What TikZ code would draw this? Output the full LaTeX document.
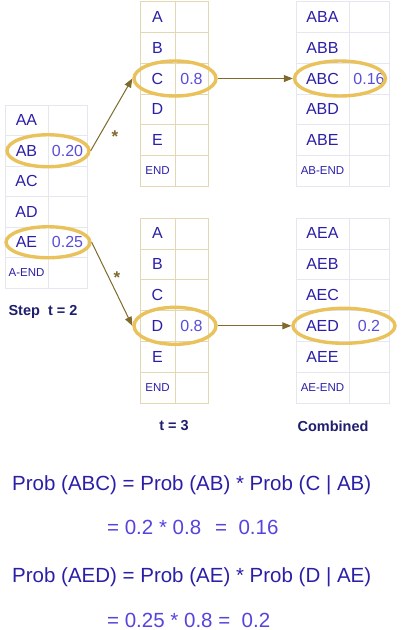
\documentclass[tikz,border=0pt]{standalone}
\usepackage{fontspec}
\setmainfont{Liberation Sans}
\usetikzlibrary{shapes.geometric, arrows.meta, positioning}
\definecolor{keyblue}{HTML}{2B1FA8}
\definecolor{valblue}{HTML}{5A4ED8}
\definecolor{titlenavy}{HTML}{1E1E6E}
\definecolor{ringgold}{HTML}{E9C25B}
\definecolor{arrowolive}{HTML}{80692C}
\definecolor{gridgray}{HTML}{E6E6F0}
\definecolor{gridtan}{HTML}{E4D7B4}
\definecolor{sumblue}{HTML}{5544DD}
\tikzset{
  bs cell/.style={
    rectangle, draw=gridgray, line width=0.6pt,
    minimum height=30.8pt, inner sep=0pt, outer sep=0pt,
    font=\fontsize{16}{16}\selectfont, text=keyblue
  },
  bs val/.style={
    bs cell, text=valblue
  },
  bs small/.style={
    font=\fontsize{11.5}{12}\selectfont
  },
  bs ring/.style={
    ellipse, draw=ringgold, line width=3.4pt, inner sep=0pt
  },
  bs arrow/.style={
    -{Triangle[length=9pt,width=7pt]}, line width=1pt, draw=arrowolive
  },
  bs star/.style={
    font=\fontsize{17}{17}\selectfont\bfseries, text=arrowolive, inner sep=0pt
  },
  bs title/.style={
    font=\fontsize{14.5}{15}\selectfont\bfseries, text=titlenavy
  },
  bs formula/.style={
    anchor=west, inner sep=0pt, font=\fontsize{20.5}{21}\selectfont
  }
}

\begin{document}
\begin{tikzpicture}[x=1pt, y=-1pt,
  t2 key/.style={bs cell, minimum width=43pt, minimum height=30.5pt},
  t2 val/.style={bs val, minimum width=39pt, minimum height=30.5pt},
  t3 key/.style={bs cell, draw=gridtan, minimum width=35pt},
  t3 val/.style={bs val, draw=gridtan, minimum width=33pt},
  cb key/.style={bs cell, minimum width=53pt},
  cb val/.style={bs val, minimum width=40pt}]
  \path [fill=white, use as bounding box] (0,0) rectangle (400,630);

  % step t = 2
  \node (aa) [t2 key] at (26.5,120.25) {AA};
  \node (aaP) [t2 val, right=0pt of aa] {};
  \node (ab) [t2 key, below=0pt of aa] {AB};
  \node (abP) [t2 val, right=0pt of ab] {0.20};
  \node (ac) [t2 key, below=0pt of ab] {AC};
  \node (acP) [t2 val, right=0pt of ac] {};
  \node (ad) [t2 key, below=0pt of ac] {AD};
  \node (adP) [t2 val, right=0pt of ad] {};
  \node (ae) [t2 key, below=0pt of ad] {AE};
  \node (aeP) [t2 val, right=0pt of ae] {0.25};
  \node (aend) [t2 key, bs small, below=0pt of ae] {A-END};
  \node (aendP) [t2 val, right=0pt of aend] {};
  \node (lblStep) [bs title] at (43,312) {Step\ \ t = 2};

  % t = 3, after AB
  \node (a1) [t3 key] at (157.5,16.9) {A};
  \node (a1P) [t3 val, right=0pt of a1] {};
  \node (b1) [t3 key, below=0pt of a1] {B};
  \node (b1P) [t3 val, right=0pt of b1] {};
  \node (c1) [t3 key, below=0pt of b1] {C};
  \node (c1P) [t3 val, right=0pt of c1] {0.8};
  \node (d1) [t3 key, below=0pt of c1] {D};
  \node (d1P) [t3 val, right=0pt of d1] {};
  \node (e1) [t3 key, below=0pt of d1] {E};
  \node (e1P) [t3 val, right=0pt of e1] {};
  \node (end1) [t3 key, bs small, below=0pt of e1] {END};
  \node (end1P) [t3 val, right=0pt of end1] {};

  % t = 3, after AE
  \node (a2) [t3 key] at (157.5,233.4) {A};
  \node (a2P) [t3 val, right=0pt of a2] {};
  \node (b2) [t3 key, below=0pt of a2] {B};
  \node (b2P) [t3 val, right=0pt of b2] {};
  \node (c2) [t3 key, below=0pt of b2] {C};
  \node (c2P) [t3 val, right=0pt of c2] {};
  \node (d2) [t3 key, below=0pt of c2] {D};
  \node (d2P) [t3 val, right=0pt of d2] {0.8};
  \node (e2) [t3 key, below=0pt of d2] {E};
  \node (e2P) [t3 val, right=0pt of e2] {};
  \node (end2) [t3 key, bs small, below=0pt of e2] {END};
  \node (end2P) [t3 val, right=0pt of end2] {};
  \node (lblT) [bs title] at (174,426) {t = 3};

  % combined, AB
  \node (aba) [cb key] at (322.5,16.9) {ABA};
  \node (abaP) [cb val, right=0pt of aba] {};
  \node (abb) [cb key, below=0pt of aba] {ABB};
  \node (abbP) [cb val, right=0pt of abb] {};
  \node (abc) [cb key, below=0pt of abb] {ABC};
  \node (abcP) [cb val, right=0pt of abc] {0.16};
  \node (abd) [cb key, below=0pt of abc] {ABD};
  \node (abdP) [cb val, right=0pt of abd] {};
  \node (abe) [cb key, below=0pt of abd] {ABE};
  \node (abeP) [cb val, right=0pt of abe] {};
  \node (abend) [cb key, bs small, below=0pt of abe] {AB-END};
  \node (abendP) [cb val, right=0pt of abend] {};

  % combined, AE
  \node (aea) [cb key] at (322.5,233.4) {AEA};
  \node (aeaP) [cb val, right=0pt of aea] {};
  \node (aeb) [cb key, below=0pt of aea] {AEB};
  \node (aebP) [cb val, right=0pt of aeb] {};
  \node (aec) [cb key, below=0pt of aeb] {AEC};
  \node (aecP) [cb val, right=0pt of aec] {};
  \node (aed) [cb key, below=0pt of aec] {AED};
  \node (aedP) [cb val, right=0pt of aed] {0.2};
  \node (aee) [cb key, below=0pt of aed] {AEE};
  \node (aeeP) [cb val, right=0pt of aee] {};
  \node (aeend) [cb key, bs small, below=0pt of aee] {AE-END};
  \node (aeendP) [cb val, right=0pt of aeend] {};
  \node (lblComb) [bs title] at (333,426) {Combined};

  % rings round the chosen rows
  \node (ringAB) [bs ring, minimum width=82pt, minimum height=32pt] at (ab.east) {};
  \node (ringAE) [bs ring, minimum width=84pt, minimum height=31pt] at (ae.east) {};
  \node (ringC) [bs ring, minimum width=82pt, minimum height=35pt] at (c1.east) {};
  \node (ringD) [bs ring, minimum width=82pt, minimum height=37pt] at (d2.east) {};
  \node (ringABC) [bs ring, minimum width=91pt, minimum height=35pt, xshift=-9pt] at (abc.east) {};
  \node (ringAED) [bs ring, minimum width=102pt, minimum height=35pt, xshift=-5pt] at (aed.east) {};

  \draw [bs arrow] (ringAB.east) -- (ringC.west);
  \draw [bs arrow] (ringAE.east) -- (ringD.west);
  \draw [bs arrow] (ringC.east) -- (ringABC.west);
  \draw [bs arrow] (ringD.east) -- (ringAED.west);
  \node (starAB) [bs star] at (115,137) {*};
  \node (starAE) [bs star] at (117,278) {*};

  % worked products
  \node (probABC) [bs formula, text=keyblue] at (12,485) {Prob (ABC) = Prob (AB) * Prob (C | AB)};
  \node (sumABC) [bs formula, text=sumblue] at (107,527) {= 0.2 * 0.8\hspace{14pt}= \ 0.16};
  \node (probAED) [bs formula, text=keyblue] at (12,577) {Prob (AED) = Prob (AE) * Prob (D | AE)};
  \node (sumAED) [bs formula, text=sumblue] at (107,620) {= 0.25 * 0.8 = \ 0.2};
\end{tikzpicture}
\end{document}
